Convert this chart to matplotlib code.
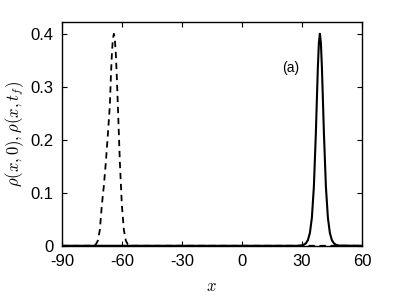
import numpy as np
import matplotlib
matplotlib.use("Agg")
import matplotlib.pyplot as plt

# initial density rho(x,0) (dashed)
x_init = [-90, -76, -74, -73, -72, -71, -70, -69, -68, -67, -66, -65.5, -65, -64.5,
          -64, -63.5, -63, -62.5, -62, -61, -60, -59, -58, -57, -56, -55, -54, -52, 60]
rho_init = [0, 0, 0.0005, 0.0025, 0.0097, 0.030, 0.077, 0.113, 0.158, 0.210, 0.265,
            0.317, 0.361, 0.390, 0.400, 0.390, 0.361, 0.317, 0.265, 0.158, 0.077,
            0.030, 0.0097, 0.0025, 0.0005, 0, 0, 0, 0]

# final density rho(x,t_f) (solid)
x_final = [-90, 28, 29, 30, 31, 32, 33, 34, 35, 36, 37, 37.5, 38, 38.5, 39, 39.5,
           40, 40.5, 41, 42, 43, 44, 45, 46, 47, 48, 49, 60]
rho_final = [0, 0, 0.0004, 0.0009, 0.0020, 0.0047, 0.0106, 0.024, 0.053, 0.112,
             0.214, 0.277, 0.338, 0.383, 0.400, 0.383, 0.338, 0.277, 0.214, 0.112,
             0.053, 0.024, 0.0106, 0.0047, 0.0020, 0.0009, 0.0004, 0]

xticks = [-90, -60, -30, 0, 30, 60]
yticks = [0, 0.1, 0.2, 0.3, 0.4]
ytick_labels = ["0", "0.1", "0.2", "0.3", "0.4"]

plt.rcParams["font.family"] = ["Liberation Sans", "DejaVu Sans"]
plt.rcParams["mathtext.fontset"] = "cm"

fig = plt.figure(figsize=(3.99, 2.99), dpi=100)
ax = fig.add_axes([0.155, 0.178, 0.752, 0.748])

ax.plot(x_init, rho_init, color="black", linestyle="--", linewidth=1.3, dashes=(3.5, 2.6))
ax.plot(x_final, rho_final, color="black", linestyle="-", linewidth=1.5)

ax.set_xlim(-90, 60)
ax.set_ylim(0, 0.422)
ax.set_xticks(xticks)
ax.set_xticklabels([str(t) for t in xticks])
ax.set_yticks(yticks)
ax.set_yticklabels(ytick_labels)
ax.tick_params(direction="in", top=True, right=True, length=3.5, width=0.8,
               labelsize=12, colors="black")
ax.tick_params(axis="x", pad=6)
ax.tick_params(axis="y", pad=6)
for s in ax.spines.values():
    s.set_linewidth(1.0)

ax.set_xlabel(r"$x$", fontsize=12, labelpad=7)
ax.set_ylabel(r"$\rho(x,0),\rho(x,t_f)$", fontsize=12, labelpad=3)
ax.text(20, 0.335, "(a)", fontsize=10, ha="left", va="center")

fig.savefig("out.png", dpi=100)
